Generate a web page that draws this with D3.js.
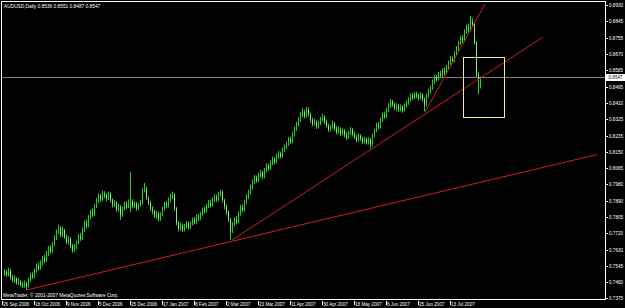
<!DOCTYPE html>
<html>
<head>
<meta charset="utf-8">
<script src="https://cdnjs.cloudflare.com/ajax/libs/d3/7.8.5/d3.min.js"></script>
<style>
html, body { margin: 0; padding: 0; background: #000; overflow: hidden; }
svg { display: block; }
text { font-family: "Liberation Sans", Arial, sans-serif; fill: #fff; }
</style>
</head>
<body>
<div id="chart"></div>
<script>
// AUDUSD daily bars, 26 Sep 2006 .. early Aug 2007
var symbol = "AUDUSD,Daily";
var lastQuote = [0.8536, 0.8551, 0.8487, 0.8547];   // O H L C of the last bar
var copyright = "MetaTrader, \u00a9 2001-2007 MetaQuotes Software Corp.";

var highs = [
0.7528,0.7522,0.7535,0.7530,0.7498,0.7495,0.7485,0.7480,0.7470,0.7462,
0.7468,0.7460,0.7482,0.7510,0.7512,0.7532,0.7558,0.7562,0.7575,0.7598,
0.7605,0.7625,0.7650,0.7655,0.7672,0.7708,0.7738,0.7765,0.7758,0.7752,
0.7742,0.7712,0.7705,0.7698,0.7662,0.7660,0.7680,0.7715,0.7720,0.7748,
0.7785,0.7790,0.7815,0.7845,0.7850,0.7875,0.7905,0.7930,0.7928,0.7945,
0.7942,0.7932,0.7940,0.7935,0.7905,0.7895,0.7888,0.7875,0.7868,0.7860,
0.7885,0.7890,0.7898,0.8043,0.7900,0.7888,0.7885,0.7880,0.7895,0.7958,
0.7985,0.7965,0.7915,0.7890,0.7862,0.7845,0.7838,0.7832,0.7830,0.7858,
0.7885,0.7890,0.7908,0.7928,0.7940,0.7930,0.7858,0.7785,0.7775,0.7770,
0.7768,0.7785,0.7780,0.7780,0.7802,0.7805,0.7818,0.7822,0.7832,0.7855,
0.7860,0.7875,0.7895,0.7898,0.7908,0.7925,0.7925,0.7938,0.7950,0.7945,
0.7902,0.7870,0.7840,0.7800,0.7778,0.7805,0.7810,0.7835,0.7868,0.7872,
0.7895,0.7925,0.7950,0.7978,0.8005,0.8028,0.8025,0.8040,0.8055,0.8050,
0.8065,0.8090,0.8088,0.8105,0.8125,0.8122,0.8140,0.8155,0.8152,0.8172,
0.8190,0.8205,0.8230,0.8232,0.8255,0.8285,0.8310,0.8335,0.8360,0.8385,
0.8375,0.8390,0.8388,0.8360,0.8332,0.8325,0.8318,0.8315,0.8335,0.8350,
0.8345,0.8322,0.8300,0.8295,0.8315,0.8310,0.8288,0.8285,0.8280,0.8275,
0.8272,0.8255,0.8262,0.8282,0.8278,0.8258,0.8242,0.8248,0.8245,0.8232,
0.8230,0.8228,0.8228,0.8225,0.8248,0.8275,0.8305,0.8310,0.8332,0.8360,
0.8365,0.8385,0.8410,0.8432,0.8428,0.8412,0.8408,0.8405,0.8402,0.8398,
0.8408,0.8422,0.8440,0.8460,0.8462,0.8468,0.8470,0.8460,0.8468,0.8462,
0.8440,0.8458,0.8485,0.8502,0.8535,0.8562,0.8560,0.8575,0.8580,0.8595,
0.8598,0.8612,0.8635,0.8660,0.8658,0.8685,0.8712,0.8740,0.8768,0.8770,
0.8800,0.8825,0.8832,0.8872,0.8860,0.8835,0.8740,0.8575,0.8551
];

var lows = [
0.7492,0.7485,0.7490,0.7472,0.7460,0.7455,0.7445,0.7443,0.7435,0.7428,
0.7430,0.7418,0.7430,0.7462,0.7475,0.7480,0.7510,0.7520,0.7525,0.7548,
0.7560,0.7565,0.7598,0.7610,0.7615,0.7650,0.7682,0.7715,0.7700,0.7698,
0.7688,0.7660,0.7658,0.7638,0.7615,0.7620,0.7635,0.7660,0.7678,0.7685,
0.7725,0.7745,0.7750,0.7792,0.7805,0.7810,0.7852,0.7880,0.7885,0.7890,
0.7905,0.7890,0.7895,0.7882,0.7855,0.7858,0.7832,0.7835,0.7790,0.7805,
0.7840,0.7848,0.7852,0.7830,0.7850,0.7852,0.7838,0.7842,0.7860,0.7872,
0.7935,0.7895,0.7868,0.7838,0.7820,0.7800,0.7795,0.7780,0.7785,0.7810,
0.7838,0.7850,0.7855,0.7885,0.7900,0.7838,0.7760,0.7728,0.7732,0.7725,
0.7728,0.7745,0.7738,0.7742,0.7760,0.7765,0.7770,0.7785,0.7790,0.7812,
0.7822,0.7828,0.7852,0.7855,0.7860,0.7885,0.7885,0.7890,0.7915,0.7882,
0.7845,0.7815,0.7778,0.7682,0.7720,0.7755,0.7765,0.7770,0.7812,0.7830,
0.7835,0.7872,0.7900,0.7925,0.7952,0.7980,0.7985,0.7990,0.8015,0.8005,
0.8010,0.8042,0.8050,0.8055,0.8080,0.8085,0.8090,0.8115,0.8115,0.8120,
0.8150,0.8165,0.8182,0.8192,0.8198,0.8232,0.8262,0.8288,0.8310,0.8335,
0.8328,0.8332,0.8338,0.8305,0.8285,0.8290,0.8272,0.8275,0.8292,0.8312,
0.8298,0.8278,0.8255,0.8258,0.8272,0.8262,0.8242,0.8245,0.8235,0.8238,
0.8228,0.8212,0.8218,0.8240,0.8232,0.8218,0.8200,0.8205,0.8210,0.8192,
0.8195,0.8188,0.8190,0.8168,0.8180,0.8228,0.8255,0.8270,0.8275,0.8310,
0.8325,0.8330,0.8362,0.8385,0.8390,0.8372,0.8368,0.8362,0.8365,0.8358,
0.8365,0.8385,0.8400,0.8418,0.8425,0.8430,0.8435,0.8422,0.8428,0.8418,
0.8365,0.8392,0.8438,0.8460,0.8480,0.8512,0.8522,0.8528,0.8542,0.8548,
0.8558,0.8562,0.8590,0.8612,0.8620,0.8625,0.8662,0.8688,0.8718,0.8728,
0.8735,0.8778,0.8785,0.8792,0.8812,0.8720,0.8545,0.8455,0.8487
];

var closes = [
0.7510,0.7498,0.7520,0.7485,0.7470,0.7478,0.7455,0.7462,0.7448,0.7440,
0.7452,0.7438,0.7470,0.7495,0.7488,0.7520,0.7545,0.7532,0.7560,0.7585,
0.7572,0.7610,0.7635,0.7622,0.7660,0.7690,0.7725,0.7748,0.7712,0.7735,
0.7700,0.7672,0.7690,0.7650,0.7628,0.7645,0.7668,0.7702,0.7690,0.7735,
0.7770,0.7758,0.7802,0.7830,0.7818,0.7862,0.7890,0.7915,0.7898,0.7930,
0.7920,0.7905,0.7928,0.7895,0.7870,0.7880,0.7845,0.7860,0.7815,0.7848,
0.7872,0.7860,0.7885,0.7890,0.7862,0.7875,0.7850,0.7868,0.7880,0.7942,
0.7958,0.7905,0.7880,0.7850,0.7835,0.7812,0.7825,0.7798,0.7818,0.7845,
0.7870,0.7862,0.7895,0.7912,0.7925,0.7850,0.7772,0.7745,0.7760,0.7738,
0.7755,0.7772,0.7750,0.7768,0.7790,0.7778,0.7805,0.7798,0.7820,0.7842,
0.7835,0.7862,0.7880,0.7868,0.7895,0.7910,0.7898,0.7925,0.7938,0.7895,
0.7860,0.7830,0.7795,0.7730,0.7765,0.7790,0.7778,0.7820,0.7855,0.7842,
0.7880,0.7910,0.7935,0.7962,0.7990,0.8012,0.7998,0.8025,0.8040,0.8018,
0.8052,0.8075,0.8062,0.8090,0.8110,0.8098,0.8125,0.8140,0.8128,0.8160,
0.8175,0.8190,0.8215,0.8205,0.8240,0.8270,0.8295,0.8320,0.8345,0.8362,
0.8340,0.8375,0.8350,0.8320,0.8298,0.8310,0.8285,0.8300,0.8322,0.8335,
0.8310,0.8290,0.8268,0.8280,0.8300,0.8275,0.8255,0.8270,0.8248,0.8262,
0.8240,0.8225,0.8250,0.8268,0.8245,0.8230,0.8212,0.8235,0.8222,0.8205,
0.8218,0.8200,0.8215,0.8190,0.8235,0.8262,0.8290,0.8282,0.8318,0.8345,
0.8338,0.8372,0.8395,0.8418,0.8402,0.8385,0.8395,0.8378,0.8390,0.8372,
0.8395,0.8410,0.8425,0.8445,0.8438,0.8452,0.8448,0.8435,0.8455,0.8430,
0.8400,0.8445,0.8470,0.8488,0.8520,0.8548,0.8535,0.8562,0.8555,0.8580,
0.8570,0.8598,0.8620,0.8645,0.8632,0.8670,0.8695,0.8725,0.8752,0.8740,
0.8785,0.8810,0.8798,0.8840,0.8825,0.8730,0.8560,0.8536,0.8547
];

// time axis labels and the bar they sit on
var dateLabels = ["26 Sep 2006", "18 Oct 2006", "9 Nov 2006", "5 Dec 2006", "25 Dec 2006",
  "17 Jan 2007", "8 Feb 2007", "2 Mar 2007", "23 Mar 2007", "11 Apr 2007",
  "30 Apr 2007", "18 May 2007", "6 Jun 2007", "25 Jun 2007", "13 Jul 2007"];
var dateBars = [0, 16, 32, 48, 64, 80, 96, 112, 128, 144, 160, 176, 192, 208, 224];

// price scale labels
var priceTicks = [0.8930, 0.8845, 0.8755, 0.8670, 0.8585, 0.8495, 0.8410, 0.8325, 0.8235,
  0.8150, 0.8065, 0.7980, 0.7890, 0.7805, 0.7720, 0.7630, 0.7545, 0.7460, 0.7375];

// trend lines drawn by the user: [bar, price] pairs
var trendLong   = [[11.5, 0.7418], [296.5, 0.8136]];
var trendMid    = [[114, 0.7682], [269.5, 0.8760]];
var trendSteep  = [[210.5, 0.8362], [240.5, 0.8935]];
// highlight rectangle: bars and prices
var boxBars   = [229.5, 250];
var boxPrices = [0.8655, 0.8335];

var W = 625, H = 308;
var plot = {left: 1.5, right: 605.5, top: 1.5, bottom: 299.5};

// one bar every 2 px
var x = d3.scaleLinear().domain([0, closes.length - 1]).range([4, 480]);
var y = d3.scaleLinear().domain([0.7375, 0.8930]).range([298, 5]);

var svg = d3.select("#chart").append("svg")
  .attr("width", W)
  .attr("height", H);

svg.append("rect").attr("width", W).attr("height", H).attr("fill", "#000");

svg.append("clipPath").attr("id", "clip")
  .append("rect")
  .attr("x", plot.left + 0.5).attr("y", plot.top + 0.5)
  .attr("width", plot.right - plot.left - 1)
  .attr("height", plot.bottom - plot.top - 1);

var area = svg.append("g").attr("clip-path", "url(#clip)");

// current bid line
area.append("line")
  .attr("x1", plot.left).attr("x2", plot.right)
  .attr("y1", Math.round(y(lastQuote[3])) + 0.5)
  .attr("y2", Math.round(y(lastQuote[3])) + 0.5)
  .attr("stroke", "#808080")
  .attr("stroke-width", 1);

// bars: lime high-low line, down days get a paler body
var bars = area.append("g");
closes.forEach(function(c, i) {
  var bx = Math.round(x(i)) + 0.5;
  var o = i > 0 ? closes[i - 1] : c;
  bars.append("line")
    .attr("x1", bx).attr("x2", bx)
    .attr("y1", y(highs[i])).attr("y2", y(lows[i]))
    .attr("stroke", "#1ed21e")
    .attr("stroke-width", 1);
  if (c < o) {
    bars.append("line")
      .attr("x1", bx).attr("x2", bx)
      .attr("y1", y(o)).attr("y2", y(c))
      .attr("stroke", "#8be88b")
      .attr("stroke-width", 1);
  }
});

// trend lines
[trendLong, trendMid, trendSteep].forEach(function(t) {
  area.append("line")
    .attr("x1", x(t[0][0])).attr("y1", y(t[0][1]))
    .attr("x2", x(t[1][0])).attr("y2", y(t[1][1]))
    .attr("stroke", "#d41c1c")
    .attr("stroke-width", 1);
});

// yellow rectangle
area.append("rect")
  .attr("x", Math.round(x(boxBars[0])) + 0.5)
  .attr("y", Math.round(y(boxPrices[0])) + 0.5)
  .attr("width", Math.round(x(boxBars[1]) - x(boxBars[0])))
  .attr("height", Math.round(y(boxPrices[1]) - y(boxPrices[0])))
  .attr("fill", "none")
  .attr("stroke", "#f2f27a")
  .attr("stroke-width", 1);

// frame
svg.append("rect")
  .attr("x", plot.left).attr("y", plot.top)
  .attr("width", plot.right - plot.left)
  .attr("height", plot.bottom - plot.top)
  .attr("fill", "none")
  .attr("stroke", "#fff")
  .attr("stroke-width", 1);

// price axis
var yAxis = svg.append("g");
priceTicks.forEach(function(v) {
  var ty = Math.round(y(v)) + 0.5;
  yAxis.append("line")
    .attr("x1", plot.right).attr("x2", plot.right + 2.5)
    .attr("y1", ty).attr("y2", ty)
    .attr("stroke", "#fff");
  yAxis.append("text")
    .attr("x", 609).attr("y", ty)
    .attr("dy", "0.35em")
    .attr("font-size", "4.6px")
    .text(v.toFixed(4));
});

// current price tag
var py = Math.round(y(lastQuote[3]));
yAxis.append("rect")
  .attr("x", 606).attr("y", py - 3)
  .attr("width", 19).attr("height", 7)
  .attr("fill", "#fff");
yAxis.append("text")
  .attr("x", 608.5).attr("y", py + 0.5)
  .attr("dy", "0.35em")
  .attr("font-size", "4.6px")
  .style("fill", "#000")
  .text(lastQuote[3].toFixed(4));

// time axis
var xAxis = svg.append("g");
dateBars.forEach(function(b, k) {
  var tx = Math.round(x(b)) - 1.5;
  xAxis.append("line")
    .attr("x1", tx).attr("x2", tx)
    .attr("y1", 301).attr("y2", 305)
    .attr("stroke", "#fff");
  xAxis.append("text")
    .attr("x", x(b) - 1).attr("y", 305.5)
    .attr("font-size", "4.6px")
    .text(dateLabels[k]);
});

// header and footer text
svg.append("text")
  .attr("x", 4).attr("y", 7.5)
  .attr("font-size", "4.8px")
  .text(symbol + "  " + lastQuote.map(function(v) { return v.toFixed(4); }).join(" "));

svg.append("text")
  .attr("x", 3).attr("y", 296.5)
  .attr("font-size", "4.8px")
  .text(copyright);
</script>
</body>
</html>
